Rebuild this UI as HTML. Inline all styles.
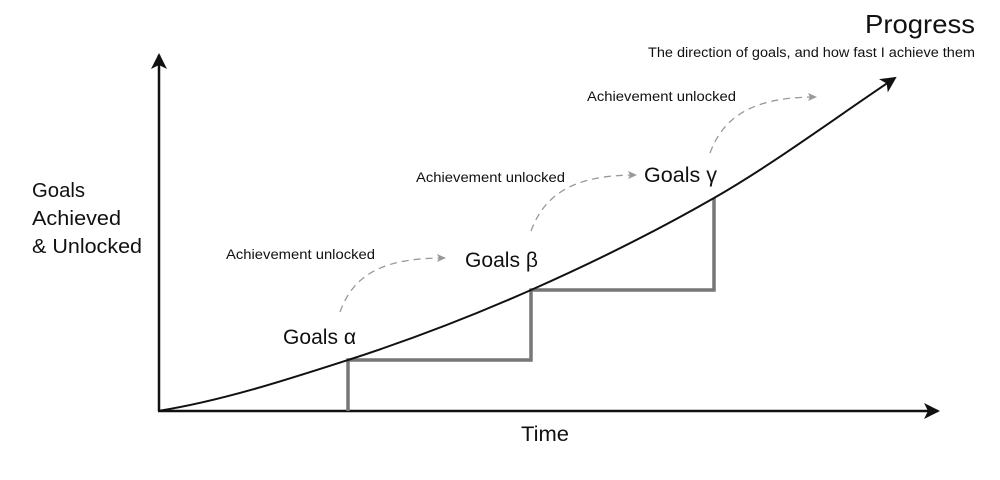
<!DOCTYPE html>
<html><head><meta charset="utf-8"><style>
html,body{margin:0;padding:0;background:#fff;}
svg text{font-family:"Liberation Sans",sans-serif;fill:#111;}
</style></head><body>
<svg width="1000" height="475" viewBox="0 0 1000 475" xmlns="http://www.w3.org/2000/svg">
<defs>
<marker id="big" markerWidth="18" markerHeight="16" refX="14" refY="8" orient="auto" markerUnits="userSpaceOnUse"><path d="M0,0 L16,8 L0,16 L4,8 Z" fill="#111"/></marker>
<marker id="ga" markerWidth="10" markerHeight="10" refX="8" refY="5" orient="auto" markerUnits="userSpaceOnUse"><path d="M0,1 L9,5 L0,9 L2,5 Z" fill="#999"/></marker>
</defs>
<line x1="159" y1="411" x2="159" y2="55" stroke="#111" stroke-width="2.5" marker-end="url(#big)"/>
<line x1="158" y1="411" x2="938" y2="411" stroke="#111" stroke-width="2.5" marker-end="url(#big)"/>
<path d="M348,411 V360 H531 V290 H714 V198" fill="none" stroke="#777" stroke-width="3.5"/>
<path d="M158,411 C221,401 286,380 348,360 C410,340 470,317 531,290 C592,263 653,233 714,198 C775,163 835,118 895,78" fill="none" stroke="#111" stroke-width="2" marker-end="url(#big)"/>
<path d="M340,312 C355,270 390,258 445,258" fill="none" stroke="#999" stroke-width="1.3" stroke-dasharray="7,5" marker-end="url(#ga)"/>
<path d="M531,231 C546,190 580,175 636,175" fill="none" stroke="#999" stroke-width="1.3" stroke-dasharray="7,5" marker-end="url(#ga)"/>
<path d="M710,153 C725,112 760,97 816,97" fill="none" stroke="#999" stroke-width="1.3" stroke-dasharray="7,5" marker-end="url(#ga)"/>
<text x="975" y="33" font-size="26" text-anchor="end" textLength="110" lengthAdjust="spacingAndGlyphs">Progress</text>
<text x="975" y="57" font-size="13.5" text-anchor="end" textLength="327" lengthAdjust="spacingAndGlyphs">The direction of goals, and how fast I achieve them</text>
<text x="587" y="101" font-size="14" textLength="149" lengthAdjust="spacingAndGlyphs">Achievement unlocked</text>
<text x="416" y="182" font-size="14" textLength="149" lengthAdjust="spacingAndGlyphs">Achievement unlocked</text>
<text x="226" y="259" font-size="14" textLength="149" lengthAdjust="spacingAndGlyphs">Achievement unlocked</text>
<text x="644" y="182" font-size="21" textLength="73" lengthAdjust="spacingAndGlyphs">Goals γ</text>
<text x="465" y="267" font-size="21" textLength="73" lengthAdjust="spacingAndGlyphs">Goals β</text>
<text x="283" y="344" font-size="21" textLength="73" lengthAdjust="spacingAndGlyphs">Goals α</text>
<text x="32" y="197" font-size="20" textLength="53" lengthAdjust="spacingAndGlyphs">Goals</text>
<text x="32" y="225" font-size="20" textLength="89" lengthAdjust="spacingAndGlyphs">Achieved</text>
<text x="32" y="253" font-size="20" textLength="110" lengthAdjust="spacingAndGlyphs">&amp; Unlocked</text>
<text x="521" y="441" font-size="21" textLength="48" lengthAdjust="spacingAndGlyphs">Time</text>
</svg>
</body></html>
